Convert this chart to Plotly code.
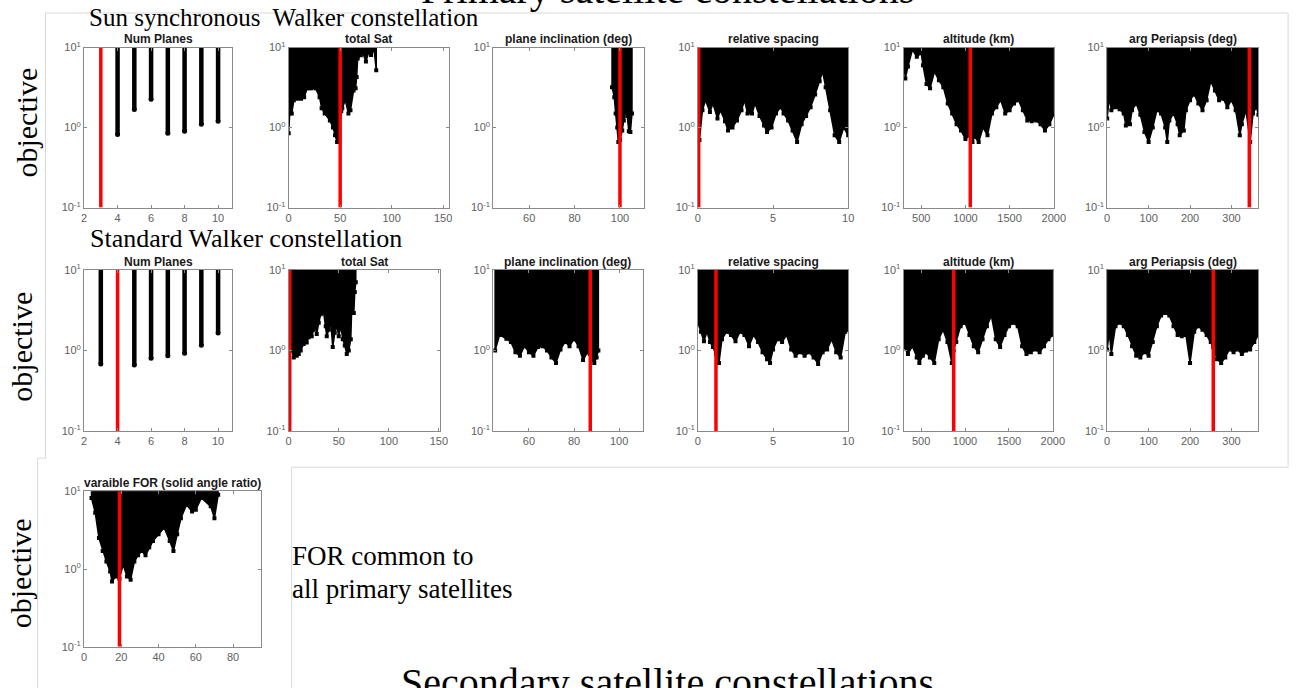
import plotly.graph_objects as go

W, H = 1307, 688

# ---------------- data ----------------
param_titles = ["Num Planes", "total Sat", "plane inclination (deg)",
                "relative spacing", "altitude (km)", "arg Periapsis (deg)"]
for_title = "varaible FOR (solid angle ratio)"

# Sun synchronous Walker constellation: lower envelope of objective vs parameter
ss_planes_x = [4, 5, 6, 7, 8, 9, 10]
ss_planes_min = [0.82, 1.68, 2.26, 0.85, 0.9, 1.1, 1.2]

ss_sat_x = [0, 1, 3, 5, 8, 12, 15, 18, 20, 22, 26, 30, 32, 35, 40, 43, 45, 47, 49,
            51, 52, 55, 58, 60, 63, 65, 66, 67, 70, 72, 75, 78, 80, 83, 85]
ss_sat_min = [0.85, 1.5, 1.5, 2.2, 2.3, 2.3, 2.4, 3.1, 3.1, 3.1, 3.1, 2.4, 1.75, 1.5, 1.23, 1.0, 0.8, 0.66, 0.7,
              1.6, 1.75, 2.2, 1.5, 1.65, 2.9, 3.1, 4.3, 7.3, 8.0, 8.5, 6.7, 9.0, 8.1, 9.4, 5.2]

ss_incl_x = [96.5, 97.5, 98.1, 98.8, 99.3, 100.0, 101.0, 101.7, 102.5, 103.2, 103.9, 104.6, 105.3]
ss_incl_min = [3.2, 2.4, 1.5, 1.0, 0.66, 0.7, 0.92, 1.23, 1.65, 1.4, 0.9, 0.88, 1.5]

ss_spacing_x = [0.0, 0.1, 0.3, 0.5, 0.8, 1.0, 1.3, 1.5, 1.8, 2.0, 2.3, 2.6, 2.9, 3.1, 3.3, 3.6, 3.8,
                4.1, 4.4, 4.6, 4.9, 5.2, 5.5, 5.7, 6.0, 6.3, 6.6, 6.9, 7.2, 7.5, 7.8, 8.1, 8.3,
                8.5, 8.8, 9.1, 9.4, 9.7, 10.0]
ss_spacing_min = [0.66, 0.7, 1.65, 2.2, 1.57, 2.0, 1.3, 1.65, 1.2, 0.92, 1.0, 1.23, 1.65, 2.2, 1.5, 1.5, 2.0,
                  1.4, 1.06, 0.88, 1.0, 1.5, 1.8, 1.5, 1.23, 0.92, 0.66, 1.1, 1.4, 1.8, 2.6, 3.8, 5.0,
                  3.2, 1.65, 0.8, 0.66, 1.0, 0.8]

ss_alt_x = [300, 320, 350, 400, 450, 500, 520, 560, 600, 650, 700, 750, 800, 850, 900, 950, 1000,
            1050, 1080, 1100, 1150, 1200, 1250, 1300, 1350, 1400, 1450, 1500, 1550, 1600, 1650,
            1700, 1750, 1800, 1850, 1900, 1950, 2000]
ss_alt_min = [7.0, 4.1, 5.8, 9.4, 7.7, 8.5, 6.0, 3.5, 3.1, 5.0, 3.9, 3.2, 2.0, 1.5, 1.1, 0.92, 0.72,
              0.8, 0.66, 0.77, 0.66, 1.0, 0.8, 1.5, 1.8, 2.2, 1.5, 1.65, 2.0, 2.2, 1.65,
              1.23, 1.2, 1.23, 1.1, 0.92, 1.1, 1.45]

ss_peri_x = [0, 5, 10, 20, 30, 40, 45, 55, 60, 70, 80, 90, 100, 110, 120, 130, 140, 145, 150, 160,
             170, 175, 185, 190, 200, 210, 220, 230, 240, 250, 260, 270, 280, 290, 300, 310, 320,
             325, 335, 345, 352, 360, 365]
ss_peri_min = [1.3, 2.4, 1.65, 1.8, 1.7, 1.5, 1.06, 1.1, 1.65, 2.0, 1.45, 0.88, 0.66, 1.0, 1.65, 1.5, 1.0, 0.66, 1.23, 1.5,
               1.1, 0.8, 0.92, 1.65, 2.2, 2.6, 2.0, 1.65, 2.2, 3.8, 2.9, 2.2, 2.3, 1.8, 2.2, 1.65, 0.8,
               1.1, 1.65, 0.66, 1.5, 1.8, 1.45]

ss_best = [3, 50, 100, 0.05, 1055, 343]

# Standard Walker constellation
sw_planes_x = [3, 5, 6, 7, 8, 9, 10]
sw_planes_min = [0.68, 0.66, 0.8, 0.86, 0.92, 1.16, 1.64]

sw_sat_x = [0, 2, 3, 5, 8, 10, 12, 15, 18, 20, 23, 25, 27, 28, 30, 32, 35, 37, 38, 40, 42, 44, 46,
            48, 50, 52, 54, 56, 58, 60, 62, 63, 65, 66, 67]
sw_sat_min = [1.4, 1.38, 1.0, 0.82, 0.86, 0.9, 1.0, 1.2, 1.25, 1.46, 1.5, 1.8, 2.0, 1.6, 2.2, 2.8, 2.9, 2.0, 1.5, 1.8, 2.2, 1.1, 1.65,
              2.0, 1.5, 2.0, 1.38, 1.15, 0.9, 1.0, 1.38, 3.6, 2.9, 5.3, 7.0]

sw_incl_x = [45, 47, 50, 52, 54, 56, 58, 60, 62, 64, 66, 68, 70, 72, 74, 76, 78, 80, 82, 84, 86,
             87, 88, 89, 90, 90.8]
sw_incl_min = [1.0, 1.55, 1.4, 1.27, 0.95, 0.86, 1.13, 0.95, 0.86, 1.1, 1.13, 1.0, 0.82, 0.7, 1.03, 1.27, 1.13, 1.38, 1.13, 0.76, 0.95,
               0.9, 0.78, 0.7, 0.82, 1.0]

sw_spacing_x = [0.0, 0.2, 0.4, 0.6, 0.8, 1.0, 1.2, 1.4, 1.6, 1.9, 2.2, 2.5, 2.8, 3.1, 3.4, 3.7, 4.0,
                4.3, 4.6, 4.8, 5.0, 5.3, 5.6, 5.9, 6.2, 6.5, 6.8, 7.1, 7.4, 7.7, 8.0, 8.3, 8.6,
                8.9, 9.2, 9.5, 9.8, 10.0]
sw_spacing_min = [2.2, 1.7, 1.3, 1.7, 1.27, 1.1, 0.9, 0.7, 1.38, 1.7, 1.55, 1.3, 1.7, 1.55, 1.13, 1.55, 1.27,
                  0.95, 0.78, 0.7, 1.03, 1.38, 1.27, 1.55, 1.03, 0.86, 0.95, 0.86, 0.95, 0.82, 0.68, 0.95, 1.03,
                  1.38, 0.95, 0.82, 1.7, 1.8]

sw_alt_x = [300, 350, 400, 450, 480, 520, 560, 600, 650, 700, 750, 800, 850, 870, 900, 950, 1000,
            1050, 1100, 1150, 1200, 1250, 1300, 1350, 1400, 1450, 1500, 1550, 1600, 1650, 1700,
            1750, 1800, 1850, 1900, 1950, 2000]
sw_alt_min = [1.13, 0.9, 1.13, 0.82, 0.7, 0.86, 0.95, 0.82, 0.7, 1.38, 1.8, 1.27, 0.7, 1.0, 1.27, 2.0, 2.2,
              1.55, 1.13, 0.95, 1.38, 2.0, 2.7, 1.38, 1.1, 1.55, 2.0, 2.2, 2.0, 1.13, 0.9,
              0.95, 1.03, 0.95, 1.13, 1.38, 1.55]

sw_peri_x = [0, 5, 10, 20, 30, 40, 50, 60, 70, 80, 90, 100, 110, 120, 130, 140, 150, 160, 170, 180,
             190, 200, 210, 220, 230, 240, 250, 256, 265, 275, 285, 295, 305, 315, 325, 335, 345,
             355, 365]
sw_peri_min = [1.03, 1.7, 0.9, 2.0, 2.2, 2.0, 1.55, 1.13, 0.86, 0.82, 0.95, 0.86, 1.27, 2.0, 2.7, 2.9, 2.7, 2.0, 1.55, 1.5,
               1.55, 0.7, 1.7, 2.0, 1.8, 1.55, 1.27, 1.1, 0.78, 0.7, 0.82, 1.03, 0.95, 1.03, 0.9, 1.0, 1.03,
               1.27, 1.55]

sw_best = [4, 1, 87.2, 1.2, 871, 256]

# variable FOR (common to all primary satellites)
for_x = [4, 6, 8, 10, 12, 14, 15, 17, 19, 21, 23, 25, 27, 29, 31, 33, 35, 37, 40, 43, 46, 48,
         50, 52, 55, 58, 60, 63, 68, 70, 72]
for_min = [8.2, 5.3, 2.5, 1.7, 1.25, 0.93, 0.69, 0.8, 0.75, 1.14, 0.8, 0.73, 1.25, 1.5, 1.7, 1.5, 1.9, 2.3, 2.8, 3.4, 2.3, 1.7,
           2.8, 4.5, 6.7, 5.5, 5.8, 8.2, 6.4, 4.5, 9.0]
for_best = 19

# axis settings (ranges and tick values)
x_ranges_row1 = [[2, 10.85], [0, 155.5], [44.2, 110.4], [0, 10], [300, 2000], [0, 365]]
x_ranges_row2 = [[2, 10.85], [0, 151], [44.2, 110.4], [0, 10], [300, 2000], [0, 365]]
x_ticks = [[2, 4, 6, 8, 10], [0, 50, 100, 150], [60, 80, 100], [0, 5, 10],
           [500, 1000, 1500, 2000], [0, 100, 200, 300]]
for_range = [0, 95]
for_ticks = [0, 20, 40, 60, 80]
y_tickvals = [0.1, 1, 10]
y_ticktext = ["10<sup>-1</sup>", "10<sup>0</sup>", "10<sup>1</sup>"]

# ---------------- layout geometry (pixels, as seen in the picture) ----------------
row1_x = [(82, 232), (289, 451), (496, 648), (703, 855), (911, 1063), (1117, 1270)]
row2_x = [(82, 232), (289, 442), (496, 647), (703, 855), (911, 1062), (1117, 1270)]
row1_y = (47.5, 207)
row2_y = (269, 430)
row3_x = (82, 261)
row3_y = (490, 645)

SANS = "Liberation Sans"
SERIF = "Liberation Serif"
AXCOL = "#8a8a8a"
TICKCOL = "#606060"

# observed rendering offset/scale in the vertical direction
V_OFF, V_SCALE = 8.0, 0.977


def X(px):
    return px / W


def Y(py):
    return 1 - ((py - V_OFF) / V_SCALE) / H


fig = go.Figure()
layout = {}
annotations = []
idx = [0]


def add_panel(xpx, ypx, xr, xt, title, xs, mins, best, bars=False, title_gap=8.5):
    idx[0] += 1
    i = idx[0]
    xa = "x" if i == 1 else f"x{i}"
    ya = "y" if i == 1 else f"y{i}"
    if bars:
        bx, by = [], []
        for xv, mv in zip(xs, mins):
            bx += [xv, xv, None]
            by += [mv, 10, None]
        fig.add_trace(go.Scatter(x=bx, y=by, mode="lines",
                                 line=dict(color="black", width=4.5),
                                 xaxis=xa, yaxis=ya, hoverinfo="skip"))
        fig.add_trace(go.Scatter(x=xs, y=mins, mode="markers",
                                 marker=dict(color="black", size=5),
                                 xaxis=xa, yaxis=ya))
    else:
        px_ = list(xs) + [xs[-1], xs[0], xs[0]]
        py_ = list(mins) + [10, 10, mins[0]]
        fig.add_trace(go.Scatter(x=px_, y=py_, mode="lines", fill="toself",
                                 fillcolor="black",
                                 line=dict(color="black", width=1.5),
                                 xaxis=xa, yaxis=ya, hoverinfo="skip"))
        fig.add_trace(go.Scatter(x=xs, y=mins, mode="markers",
                                 marker=dict(color="black", size=4, symbol="square"),
                                 xaxis=xa, yaxis=ya))
    fig.add_trace(go.Scatter(x=[best, best], y=[0.1, 10], mode="lines",
                             line=dict(color="#ff0000", width=3.5),
                             xaxis=xa, yaxis=ya, hoverinfo="skip"))
    xkey = "xaxis" if i == 1 else f"xaxis{i}"
    ykey = "yaxis" if i == 1 else f"yaxis{i}"
    common = dict(showline=True, linecolor=AXCOL, linewidth=1, mirror="ticks",
                  ticks="inside", ticklen=3, tickcolor=AXCOL,
                  showgrid=False, zeroline=False,
                  tickfont=dict(family=SANS, size=11, color=TICKCOL))
    layout[xkey] = dict(domain=[X(xpx[0]), X(xpx[1])], range=xr, tickvals=xt,
                        anchor=ya, fixedrange=True, **common)
    layout[ykey] = dict(domain=[Y(ypx[1]), Y(ypx[0])], type="log", range=[-1, 1],
                        tickvals=y_tickvals, ticktext=y_ticktext,
                        anchor=xa, fixedrange=True, **common)
    annotations.append(dict(text=f"<b>{title}</b>", x=X((xpx[0] + xpx[1]) / 2),
                            y=Y(ypx[0] - title_gap), xref="paper", yref="paper",
                            xanchor="center", yanchor="middle", showarrow=False,
                            font=dict(family=SANS, size=12, color="#1a1a1a")))


ss_data = [(ss_planes_x, ss_planes_min), (ss_sat_x, ss_sat_min), (ss_incl_x, ss_incl_min),
           (ss_spacing_x, ss_spacing_min), (ss_alt_x, ss_alt_min), (ss_peri_x, ss_peri_min)]
sw_data = [(sw_planes_x, sw_planes_min), (sw_sat_x, sw_sat_min), (sw_incl_x, sw_incl_min),
           (sw_spacing_x, sw_spacing_min), (sw_alt_x, sw_alt_min), (sw_peri_x, sw_peri_min)]

for k in range(6):
    add_panel(row1_x[k], row1_y, x_ranges_row1[k], x_ticks[k], param_titles[k],
              ss_data[k][0], ss_data[k][1], ss_best[k], bars=(k == 0))
for k in range(6):
    add_panel(row2_x[k], row2_y, x_ranges_row2[k], x_ticks[k], param_titles[k],
              sw_data[k][0], sw_data[k][1], sw_best[k], bars=(k == 0), title_gap=7.5)
add_panel(row3_x, row3_y, for_range, for_ticks, for_title, for_x, for_min, for_best)


def text(t, x, y, size, xanchor="left", angle=0):
    annotations.append(dict(text=t, x=X(x), y=Y(y), xref="paper", yref="paper",
                            xanchor=xanchor, yanchor="middle", showarrow=False,
                            textangle=angle,
                            font=dict(family=SERIF, size=size, color="black")))


text("Primary satellite constellations", 672, -10, 40, "center")
text("Secondary satellite constellations", 672, 681, 40, "center")
text("Sun synchronous&nbsp; Walker constellation", 85, 17.5, 25)
text("Standard Walker constellation", 86, 237.5, 26)
text("objective", 24, 122.5, 30, "center", -90)
text("objective", 19, 346, 30, "center", -90)
text("objective", 18, 572, 30, "center", -90)
text("FOR common to", 290, 554.5, 27)
text("all primary satellites", 290, 587.5, 27)

# faint slide frame lines
FR = "#d9d9d9"
frame = [
    (43, 13, 1300, 13), (43, 13, 43, 457), (1300, 13, 1300, 466),
    (292, 466, 1300, 466), (292, 466, 292, 700),
    (35, 457, 43, 457), (35, 457, 35, 700),
]
shapes = [dict(type="line", xref="paper", yref="paper", x0=X(a), y0=Y(b), x1=X(c), y1=Y(d),
               line=dict(color=FR, width=1), layer="below") for a, b, c, d in frame]

fig.update_layout(
    width=W, height=H, margin=dict(l=0, r=0, t=0, b=0),
    paper_bgcolor="white", plot_bgcolor="white", showlegend=False,
    annotations=annotations, shapes=shapes, **layout)

fig.write_html("out.html")
